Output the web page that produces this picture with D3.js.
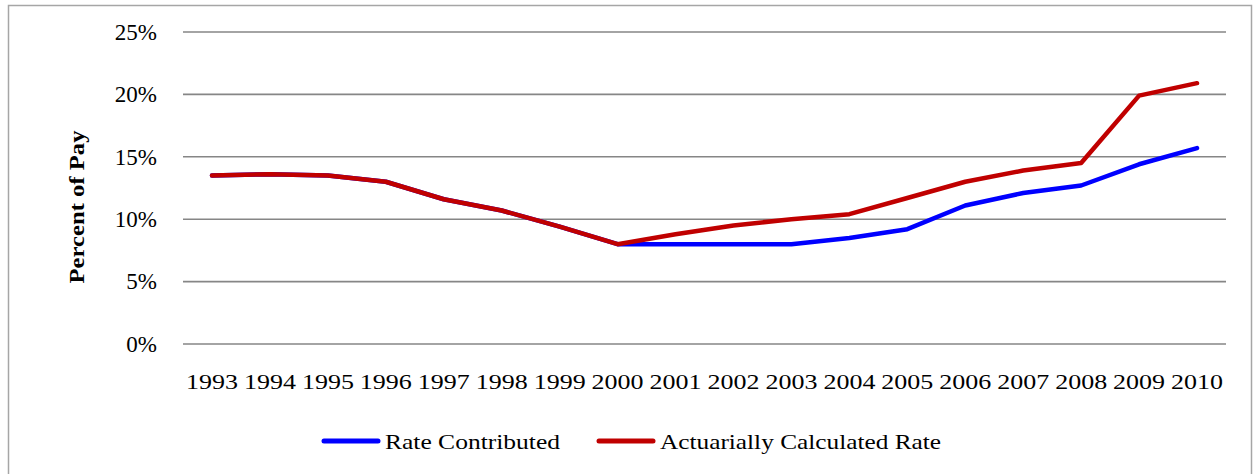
<!DOCTYPE html>
<html>
<head>
<meta charset="utf-8">
<script src="https://cdn.jsdelivr.net/npm/d3@7"></script>
<style>
  html, body { margin: 0; padding: 0; background: #fff; }
  svg { display: block; }
  text { font-family: "Liberation Serif", "Times New Roman", serif; fill: #000; }
</style>
</head>
<body>
<svg id="chart" width="1253" height="474"></svg>
<script>
// Contribution rates as a percent of pay, 1993–2010
const years = ["1993","1994","1995","1996","1997","1998","1999","2000","2001",
               "2002","2003","2004","2005","2006","2007","2008","2009","2010"];
const rateContributed = [13.5, 13.6, 13.5, 13.0, 11.6, 10.7, 9.4, 8.0, 8.0,
                         8.0, 8.0, 8.5, 9.2, 11.1, 12.1, 12.7, 14.4, 15.7];
const actuarialRate   = [13.5, 13.6, 13.5, 13.0, 11.6, 10.7, 9.4, 8.0, 8.8,
                         9.5, 10.0, 10.4, 11.7, 13.0, 13.9, 14.5, 19.9, 20.9];
const yTicks = [0, 5, 10, 15, 20, 25];
const seriesNames = ["Rate Contributed", "Actuarially Calculated Rate"];
const seriesColors = ["#0000ff", "#c00000"];

const svg = d3.select("#chart");

// outer frame
svg.append("rect")
  .attr("x", 8.5).attr("y", 5.5)
  .attr("width", 1243).attr("height", 480)
  .attr("fill", "none").attr("stroke", "#a6a6a6").attr("stroke-width", 1.5);

const plot = { left: 183, right: 1226, top: 32, bottom: 344 };

const x = d3.scaleBand().domain(years).range([plot.left, plot.right]);
const y = d3.scaleLinear().domain([0, 25]).range([plot.bottom, plot.top]);

// horizontal gridlines
svg.append("g")
  .selectAll("line")
  .data(yTicks)
  .join("line")
  .attr("x1", plot.left).attr("x2", plot.right)
  .attr("y1", d => y(d)).attr("y2", d => y(d))
  .attr("stroke", "#868686").attr("stroke-width", 1.6);

// y axis labels
const yAxis = d3.axisLeft(y).tickValues(yTicks).tickSize(0).tickPadding(0)
  .tickFormat(d => d + "%");
svg.append("g")
  .attr("transform", `translate(${plot.left - 26},0)`)
  .call(yAxis)
  .call(g => g.select(".domain").remove())
  .call(g => g.selectAll("text")
    .attr("font-family", "Liberation Serif")
    .attr("font-size", 23)
    .attr("fill", "#000"));

// x axis labels
const xAxis = d3.axisBottom(x).tickSize(0).tickPadding(0);
svg.append("g")
  .attr("transform", `translate(0,${plot.bottom + 29})`)
  .call(xAxis)
  .call(g => g.select(".domain").remove())
  .call(g => g.selectAll("text")
    .attr("font-family", "Liberation Serif")
    .attr("font-size", 22)
    .attr("fill", "#000")
    .attr("textLength", 52)
    .attr("lengthAdjust", "spacingAndGlyphs"));

// y axis title
svg.append("text")
  .attr("transform", "translate(84,207) rotate(-90)")
  .attr("text-anchor", "middle")
  .attr("font-size", 22)
  .attr("font-weight", "bold")
  .attr("textLength", 153)
  .attr("lengthAdjust", "spacingAndGlyphs")
  .text("Percent of Pay");

// series lines
const line = d3.line()
  .x((d, i) => x(years[i]) + x.bandwidth() / 2)
  .y(d => y(d));

[rateContributed, actuarialRate].forEach((vals, k) => {
  svg.append("path")
    .datum(vals)
    .attr("d", line)
    .attr("fill", "none")
    .attr("stroke", seriesColors[k])
    .attr("stroke-width", 4.5)
    .attr("stroke-linejoin", "round")
    .attr("stroke-linecap", "round");
});

// legend
const legendItems = [
  { x: 322, textLen: 175 },
  { x: 597, textLen: 281 }
];
const legend = svg.append("g");
legendItems.forEach((it, k) => {
  legend.append("line")
    .attr("x1", it.x + 2).attr("x2", it.x + 56)
    .attr("y1", 441).attr("y2", 441)
    .attr("stroke", seriesColors[k]).attr("stroke-width", 5)
    .attr("stroke-linecap", "round");
  legend.append("text")
    .attr("x", it.x + 63).attr("y", 449)
    .attr("font-size", 22)
    .attr("textLength", it.textLen)
    .attr("lengthAdjust", "spacingAndGlyphs")
    .text(seriesNames[k]);
});
</script>
</body>
</html>
